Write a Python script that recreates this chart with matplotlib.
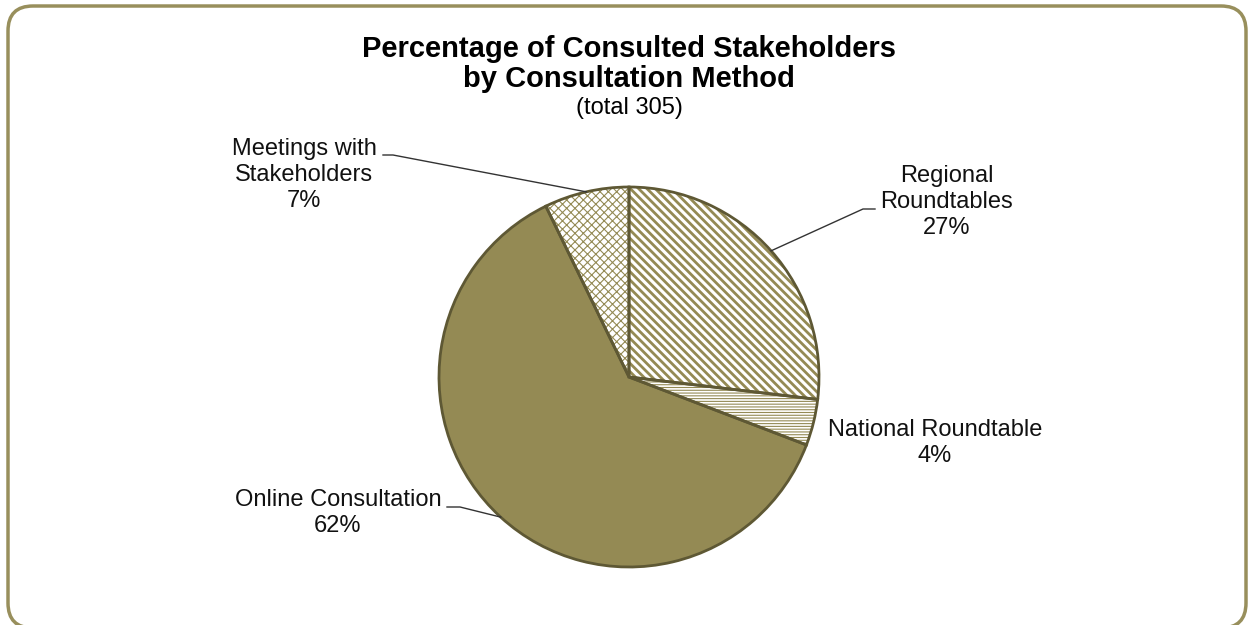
import numpy as np
import matplotlib.pyplot as plt
from matplotlib.patches import FancyBboxPatch

# consulted stakeholders by method (total 305)
methods = ["Regional\nRoundtables", "National Roundtable", "Online Consultation", "Meetings with\nStakeholders"]
counts = [82, 12, 189, 22]
hatches = ["\\\\\\\\", "------", "", "xxxx"]

olive = "#948A54"
edge = "#5E5834"
fam = ["Liberation Sans", "DejaVu Sans"]

W, H = 1249, 625
fig = plt.figure(figsize=(W / 100, H / 100), dpi=100)
ax = fig.add_axes([0, 0, 1, 1])

cx, cy, r = 629, H - 377, 190
total = sum(counts)
pcts = [round(100 * c / total) for c in counts]

# hatched fill first, then a plain outline on top
fills = ["white", "white", olive, "white"]
plt.rcParams["hatch.color"] = olive
wedges, _ = ax.pie(counts, startangle=90, counterclock=False, center=(cx, cy), radius=r,
                   colors=fills, wedgeprops=dict(linewidth=0, edgecolor=olive))
for w, h in zip(wedges, hatches):
    if h:
        w.set_hatch(h)
        if hasattr(w, "set_hatch_linewidth"):
            w.set_hatch_linewidth(2.0 if h.startswith("\\") else 0.8)
ax.pie(counts, startangle=90, counterclock=False, center=(cx, cy), radius=r,
       colors=["none"] * 4, wedgeprops=dict(linewidth=2, edgecolor=edge))

ax.set_xlim(0, W)
ax.set_ylim(0, H)
ax.axis("off")

# label block centres and leader start points (pixels from top-left)
label_xy = [(947, 202), (935, 443), (338, 513), (304, 175)]
leader_start = [[(875, 209), (863, 209)], None, [(447, 507), (460, 507)], [(383, 155), (393, 155)]]

for w, name, p, (tx, ty), ls in zip(wedges, methods, pcts, label_xy, leader_start):
    ax.text(tx, H - ty, f"{name}\n{p}%", ha="center", va="center", fontsize=17,
            family=fam, color="#111111", linespacing=1.22)
    if ls:
        mid = np.deg2rad((w.theta1 + w.theta2) / 2)
        ex, ey = cx + r * np.cos(mid), cy + r * np.sin(mid)
        xs = [ls[0][0], ls[1][0], ex]
        ys = [H - ls[0][1], H - ls[1][1], ey]
        ax.plot(xs, ys, color="#333333", lw=1)

ax.text(629, H - 64, "Percentage of Consulted Stakeholders\nby Consultation Method",
        ha="center", va="center", fontsize=21, fontweight="bold", family=fam,
        linespacing=1.08)
ax.text(629, H - 108, "(total 305)", ha="center", va="center", fontsize=17, family=fam)

frame = FancyBboxPatch((8, -3), 1238, 622, boxstyle="round,pad=0,rounding_size=25",
                       fill=False, edgecolor="#988F5C", linewidth=2.5, clip_on=False)
ax.add_patch(frame)

fig.savefig("out.png", dpi=100, facecolor="white")
